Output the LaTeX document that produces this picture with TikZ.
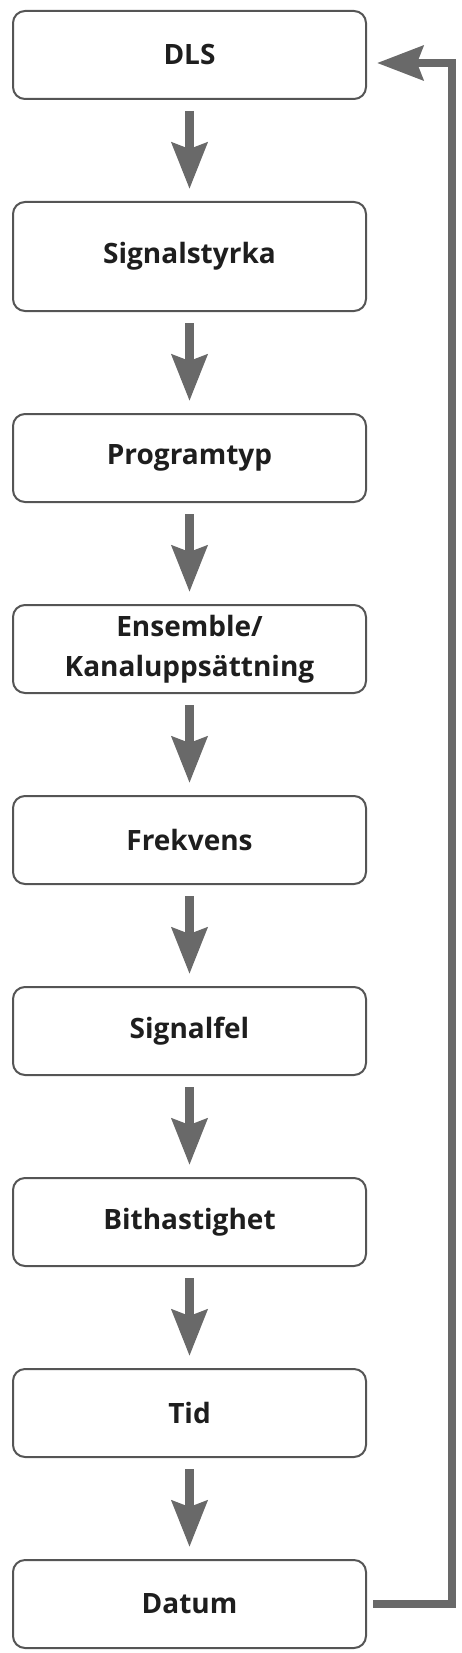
\documentclass[tikz,border=0pt]{standalone}
\usepackage{fontspec}
\setsansfont{Open Sans}
\usetikzlibrary{arrows.meta, positioning}
\definecolor{cframe}{HTML}{555555}
\definecolor{carrow}{HTML}{696969}
\definecolor{ctext}{HTML}{1E1E1E}
\tikzset{
  every picture/.style={font=\sffamily\bfseries\fontsize{28}{40}\selectfont, line width=2pt},
  box/.style={draw=cframe, fill=white, rounded corners=12pt, align=center, text=ctext, minimum width=353pt, minimum height=88pt, inner sep=0pt},
  flow/.style={-{Stealth[length=46pt, width=35pt, inset=6pt]}, draw=carrow, line width=9pt, shorten <=11pt, shorten >=12pt},
  back/.style={-{Stealth[length=46pt, width=34pt, inset=6pt]}, draw=carrow, line width=8.5pt, line join=miter},
}

\begin{document}
\begin{tikzpicture}[node distance=101pt]
  \useasboundingbox (0,0) rectangle (462pt,-1653pt);
  \node[box] (dls) at (189.5pt,-55pt) {DLS};
  \node[box, minimum height=109pt, below=of dls] (styrka) {Signalstyrka};
  \node[box, below=of styrka] (typ) {Programtyp};
  \node[box, below=of typ] (ens) {Ensemble/\\Kanaluppsättning};
  \node[box, below=of ens] (frek) {Frekvens};
  \node[box, below=of frek] (fel) {Signalfel};
  \node[box, below=of fel] (bit) {Bithastighet};
  \node[box, below=of bit] (tid) {Tid};
  \node[box, below=of tid] (datum) {Datum};
  \draw[flow] (dls) -- (styrka);
  \draw[flow] (styrka) -- (typ);
  \draw[flow] (typ) -- (ens);
  \draw[flow] (ens) -- (frek);
  \draw[flow] (frek) -- (fel);
  \draw[flow] (fel) -- (bit);
  \draw[flow] (bit) -- (tid);
  \draw[flow] (tid) -- (datum);
  % return line to the top
  \coordinate (turn) at ([xshift=85pt]datum.east);
  \draw[back] ([xshift=6pt]datum.east) -- (turn) |- ([xshift=10pt, yshift=-8pt]dls.east);
\end{tikzpicture}
\end{document}
